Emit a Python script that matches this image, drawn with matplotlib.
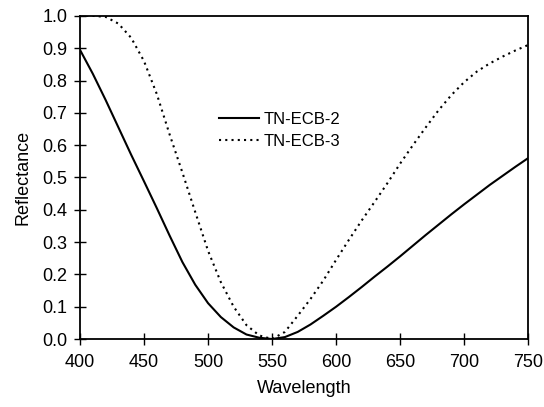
import numpy as np
import matplotlib.pyplot as plt

plt.rcParams['font.family'] = ['Liberation Sans', 'DejaVu Sans']

wavelength = np.arange(400, 760, 10)

tn_ecb_2 = [0.895, 0.821, 0.740, 0.655, 0.570, 0.488, 0.405, 0.320, 0.238, 0.168,
            0.111, 0.068, 0.036, 0.014, 0.004, 0.000, 0.006, 0.022, 0.045, 0.072,
            0.100, 0.130, 0.161, 0.193, 0.224, 0.256, 0.289, 0.322, 0.354, 0.386,
            0.417, 0.447, 0.477, 0.505, 0.533, 0.560]

tn_ecb_3 = [1.000, 1.000, 0.997, 0.976, 0.932, 0.860, 0.758, 0.633, 0.515, 0.393,
            0.273, 0.176, 0.100, 0.043, 0.011, 0.000, 0.022, 0.072, 0.124, 0.181,
            0.245, 0.307, 0.367, 0.424, 0.482, 0.543, 0.600, 0.655, 0.708, 0.755,
            0.795, 0.828, 0.853, 0.874, 0.893, 0.910]

xticks = [400, 450, 500, 550, 600, 650, 700, 750]
yticks = np.arange(0, 1.01, 0.1)

fig = plt.figure(figsize=(5.44, 4.07), dpi=100)
ax = fig.add_axes([0.147, 0.167, 0.824, 0.794])

ax.plot(wavelength, tn_ecb_2, color='black', lw=1.5, label='TN-ECB-2')
ax.plot(wavelength, tn_ecb_3, color='black', lw=1.5, linestyle=(0, (1, 2)), label='TN-ECB-3')

ax.set_xlim(400, 750)
ax.set_ylim(0, 1.0)
ax.set_xticks(xticks)
ax.set_yticks(yticks)
ax.set_yticklabels(['%.1f' % v for v in yticks])
ax.tick_params(direction='inout', length=8, width=1, labelsize=13, colors='black')
ax.tick_params(axis='x', pad=7)
ax.tick_params(axis='y', pad=5)
for s in ax.spines.values():
    s.set_linewidth(1.3)

ax.set_xlabel('Wavelength', fontsize=13, labelpad=6)
ax.set_ylabel('Reflectance', fontsize=13, labelpad=8)

ax.legend(loc='upper left', bbox_to_anchor=(0.277, 0.75), frameon=False, fontsize=12,
          handlelength=2.4, handletextpad=0.25, labelspacing=0.45)

fig.savefig('out.png', dpi=100)
